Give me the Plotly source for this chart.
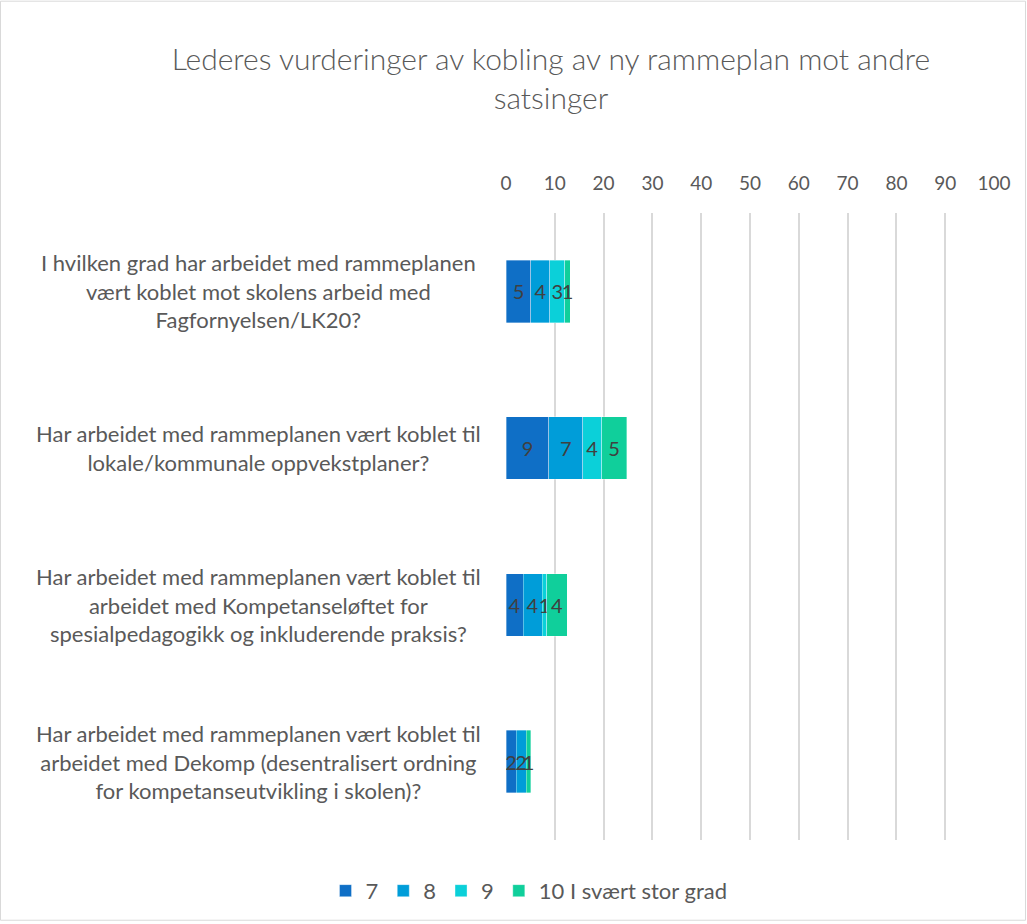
import plotly.graph_objects as go

categories = [
    "I hvilken grad har arbeidet med rammeplanen<br>vært koblet mot skolens arbeid med<br>Fagfornyelsen/LK20?",
    "Har arbeidet med rammeplanen vært koblet til<br>lokale/kommunale oppvekstplaner?",
    "Har arbeidet med rammeplanen vært koblet til<br>arbeidet med Kompetanseløftet for<br>spesialpedagogikk og inkluderende praksis?",
    "Har arbeidet med rammeplanen vært koblet til<br>arbeidet med Dekomp (desentralisert ordning<br>for kompetanseutvikling i skolen)?",
]
series_names = ["7", "8", "9", "10 I svært stor grad"]
s7 = [5.1, 8.8, 3.5, 2.1]
s8 = [3.9, 6.9, 3.9, 2.0]
s9 = [3.0, 3.9, 1.0, 0.0]
s10 = [1.2, 5.1, 4.1, 1.0]
series_values = [s7, s8, s9, s10]
colors = ["#0F6FC6", "#009DD9", "#0BD0D9", "#10CF9B"]
x_ticks = list(range(0, 101, 10))

FONT = "Lato, 'Open Sans', sans-serif"
GREY = "#595959"

fig = go.Figure()
ykeys = list(range(len(categories)))
for name, vals, col in zip(series_names, series_values, colors):
    fig.add_trace(go.Bar(
        y=ykeys, x=vals, name=name, orientation="h",
        marker=dict(color=col, line=dict(color="rgba(255,255,255,0.5)", width=0.7)),
        text=[f"{round(v)}" for v in vals],
        textposition="inside", insidetextanchor="middle",
        constraintext="none", textangle=0,
        textfont=dict(family=FONT, size=20, color="#404040"),
        hoverinfo="x+name",
    ))

L, R, T, B = 506, 33, 213, 82
W, H = 1027, 924
pw = W - L - R
ph = H - T - B

annotations = []
for i, c in enumerate(categories):
    annotations.append(dict(
        xref="paper", yref="y", x=(258 - L) / pw, y=i, text=c,
        showarrow=False, align="center", xanchor="center", yanchor="middle",
        font=dict(family=FONT, size=22, color=GREY),
    ))

fig.update_layout(
    width=W, height=H,
    margin=dict(l=L, r=R, t=T, b=B),
    paper_bgcolor="white", plot_bgcolor="white",
    barmode="stack", bargap=0.6,
    title=dict(
        text="Lederes vurderinger av kobling av ny rammeplan mot andre<br>satsinger",
        x=551 / W, xanchor="center", y=1 - 70 / H, yanchor="middle",
        font=dict(family=FONT, size=30, color=GREY, weight=300),
    ),
    xaxis=dict(
        side="top", range=[0, 100], tickvals=x_ticks,
        ticktext=[str(t) for t in x_ticks],
        showgrid=True, gridcolor="#D9D9D9", gridwidth=2,
        zeroline=False, showline=False, ticks="",
        tickfont=dict(family=FONT, size=19, color=GREY),
        ticklabelstandoff=18,
        fixedrange=True,
    ),
    yaxis=dict(
        range=[3.5, -0.5], showticklabels=False, showgrid=False,
        zeroline=False, showline=False, ticks="",
    ),
    legend=dict(
        orientation="h", x=(529 - L) / pw, xanchor="center",
        y=-51 / ph, yanchor="middle", traceorder="normal",
        font=dict(family=FONT, size=22, color=GREY),
        itemwidth=30,
    ),
    annotations=annotations,
    shapes=[dict(
        type="rect", xref="paper", yref="paper",
        x0=(0.5 - L) / pw, x1=(W - 1.5 - L) / pw,
        y0=-(B - 1.5) / ph, y1=1 + (T - 0.5) / ph,
        line=dict(color="#D9D9D9", width=1), fillcolor="rgba(0,0,0,0)",
        layer="below",
    )],
)

fig.write_html("out.html", config={"displayModeBar": False},
               post_script="document.body.style.margin='0';")
